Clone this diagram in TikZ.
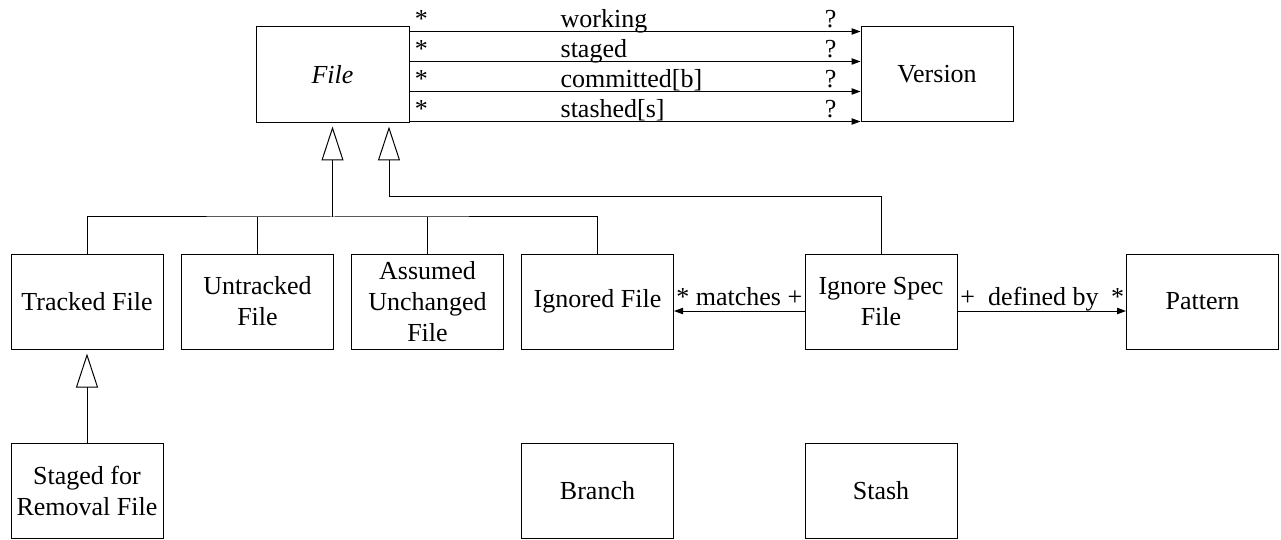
\documentclass[tikz,border=0pt]{standalone}
\usepackage{fontspec}
\setmainfont{Liberation Serif}
\usetikzlibrary{arrows.meta,calc}
\begin{document}
\begin{tikzpicture}[x=0.5pt,y=-0.5pt,
  box/.style={draw,line width=0.5pt,minimum width=76pt,minimum height=47.5pt,inner sep=1pt,align=center,font=\fontsize{13}{15.5}\selectfont},
  lbl/.style={font=\fontsize{13}{15.5}\selectfont,inner sep=0pt},
  assoc/.style={line width=0.5pt,-{Triangle[length=4.5pt,width=3.2pt]}},
  inh/.style={line width=0.5pt,-{Triangle[open,length=17pt,width=11pt]}},
  conn/.style={line width=0.5pt}
]
\useasboundingbox (0,0) rectangle (1281,540);
% nodes
\node[box,minimum width=76.5pt,minimum height=48pt] (File) at (332.5,75) {\itshape File};
\node[box] (Version) at (937,74.5) {Version};
\node[box] (Tracked) at (87,301.5) {Tracked File};
\node[box] (Untracked) at (257.5,301.5) {Untracked\\File};
\node[box] (Assumed) at (427.5,301.5) {Assumed\\Unchanged\\File};
\node[box] (Ignored) at (597.5,301.5) {Ignored File};
\node[box] (IgnoreSpec) at (881,301.5) {Ignore Spec\\File};
\node[box] (Pattern) at (1202.5,301.5) {Pattern};
\node[box] (Staged) at (87,490.5) {Staged for\\Removal File};
\node[box] (Branch) at (597.5,490.5) {Branch};
\node[box] (Stash) at (881,490.5) {Stash};
% associations File -> Version
\foreach \off/\txt in {2.5/working,17.5/staged,32.5/committed[b],47.5/stashed[s]}{
  \draw[assoc] ([yshift=-\off pt]File.north east) -- ([yshift=-\off pt]Version.north west)
    node[lbl,pos=0.0265,anchor=base,yshift=2pt] {*}
    node[lbl,pos=0.334,anchor=base west,yshift=2pt] {\txt}
    node[lbl,pos=0.934,anchor=base,yshift=2pt] {?};
}
% generalisation bus
\coordinate (bus) at (332.5,217);
\draw[conn] (Tracked.north) |- (bus) -| (Ignored.north);
\draw[conn] (Untracked.north) -- (Untracked.north |- bus);
\draw[conn] (Assumed.north) -- (Assumed.north |- bus);
\draw[inh,shorten >=1.5pt] (bus) -- (File.south);
\coordinate (turn) at (389,197);
\draw[inh,shorten >=1.5pt] (IgnoreSpec.north) |- (turn) -- (turn |- File.south);
\draw[inh,shorten >=2pt] (Staged.north) -- (Tracked.south);
% matches
\draw[assoc] ([yshift=-4.75pt]IgnoreSpec.west) -- ([yshift=-4.75pt]Ignored.east)
  node[lbl,midway,anchor=base,yshift=3pt] {* matches +};
% defined by
\draw[assoc] ([yshift=-4.75pt]IgnoreSpec.east) -- ([yshift=-4.75pt]Pattern.west)
  node[lbl,pos=0.06,anchor=base,yshift=3pt] {+}
  node[lbl,pos=0.51,anchor=base,yshift=3pt] {defined by}
  node[lbl,pos=0.95,anchor=base,yshift=3pt] {*};
\end{tikzpicture}
\end{document}
